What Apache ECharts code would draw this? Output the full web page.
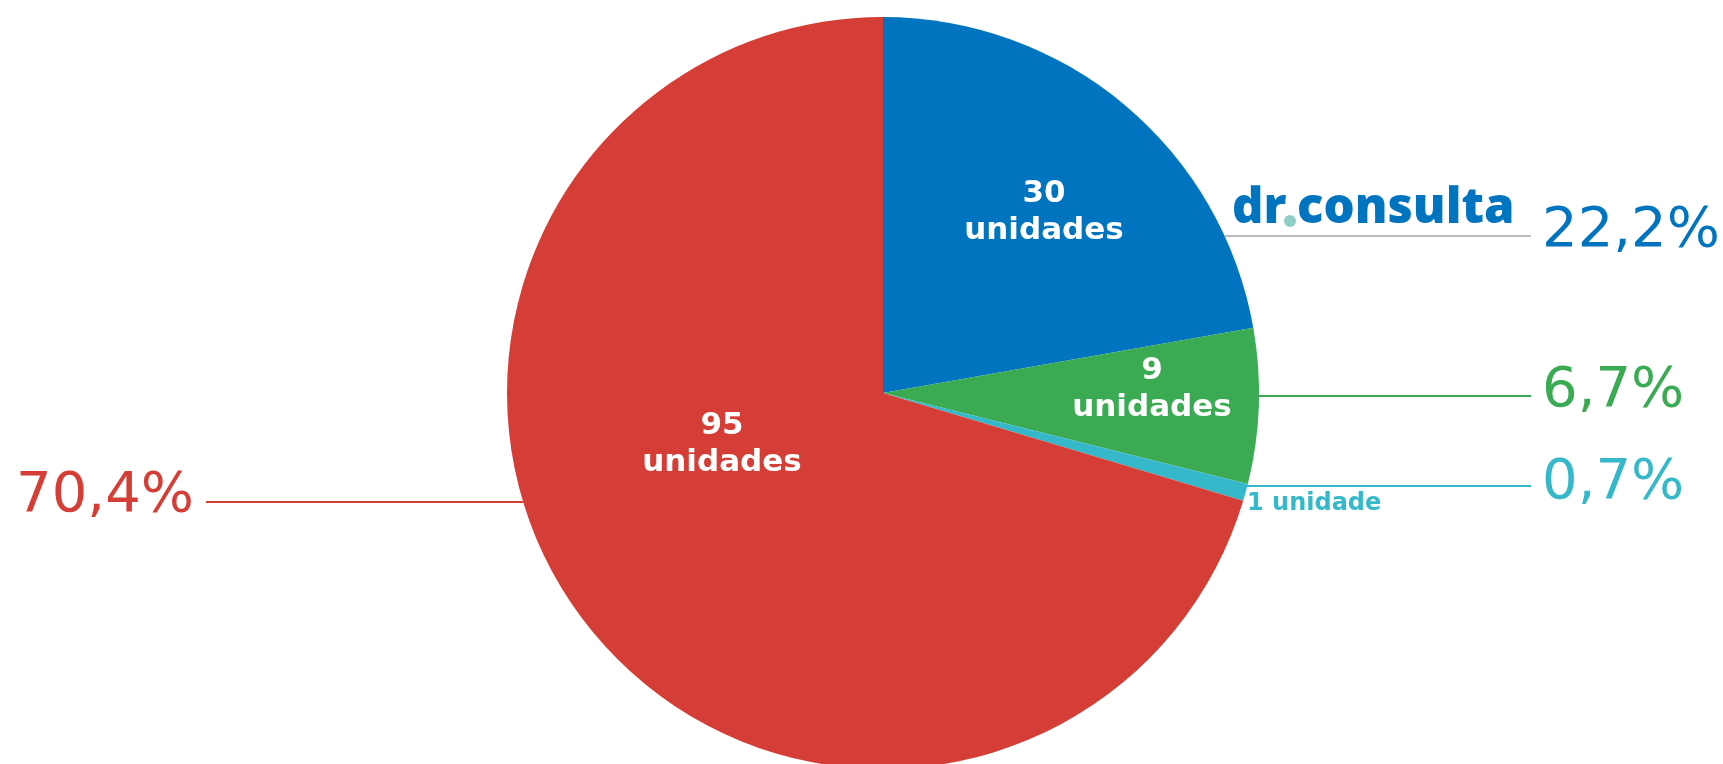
<!DOCTYPE html>
<html lang="pt">
<head>
    <meta charset="UTF-8">
    <title>unidades</title>
    <script src="https://cdn.jsdelivr.net/npm/echarts@6/dist/echarts.min.js"></script>
    <style>
        html, body { margin: 0; padding: 0; background: #fff; }
    </style>
</head>
<body>
<div id="main" style="width: 1723px;height:764px;"></div>
<script>
    // dados do gráfico
    var nomes = ['dr.consulta', 'Outra', 'Outra 2', 'Demais'];
    var unidades = [30, 9, 1, 95];
    var cores = ['#0074BF', '#3AAB53', '#35B9CA', '#D53E36'];
    var coresLinha = ['#BBBBBB', '#3AAB53', '#35B9CA', '#D53E36'];

    // posições dos rótulos internos (centro do bloco)
    var posInterno = [[1044, 212], [1152, 389], [1247, 504], [722, 444]];
    // posições dos rótulos de percentual e das linhas
    var posPct = [[1542, 231, 'left'], [1542, 391, 'left'], [1542, 483, 'left'], [194, 496, 'right']];
    var linhas = [
        [[1225, 236], [1225, 236], [1531, 236]],
        [[1259, 396], [1259, 396], [1531, 396]],
        [[1247, 486], [1247, 486], [1531, 486]],
        [[523, 502], [523, 502], [206, 502]]
    ];

    var dados = [];
    for (var i = 0; i < unidades.length; i++) {
        var item = {
            name: nomes[i],
            value: unidades[i],
            itemStyle: { color: cores[i] }
        };
        if (unidades[i] == 1) {
            item.label = {
                color: cores[i],
                fontSize: 24,
                formatter: '{c} unidade'
            };
        }
        dados.push(item);
    }

    var dadosPct = [];
    for (var j = 0; j < unidades.length; j++) {
        dadosPct.push({
            name: nomes[j],
            value: unidades[j],
            label: { color: cores[j] },
            labelLine: { lineStyle: { color: coresLinha[j] } }
        });
    }

    var chart = echarts.init(document.getElementById("main"));
    var option = {
        animation: false,
        series: [
            {
                type: 'pie',
                center: [883, 393],
                radius: [0, 376],
                startAngle: 90,
                clockwise: true,
                silent: true,
                data: dados,
                label: {
                    show: true,
                    position: 'inside',
                    color: '#fff',
                    fontFamily: 'DejaVu Sans',
                    fontWeight: 'bold',
                    fontSize: 31,
                    lineHeight: 37,
                    formatter: '{c}\nunidades'
                },
                labelLine: { show: false },
                labelLayout: function (p) {
                    var pos = posInterno[p.dataIndex];
                    var um = unidades[p.dataIndex] == 1;
                    return {
                        x: pos[0],
                        y: pos[1],
                        align: um ? 'left' : 'center',
                        verticalAlign: 'middle'
                    };
                }
            },
            {
                type: 'pie',
                center: [883, 393],
                radius: [0, 376],
                startAngle: 90,
                clockwise: true,
                silent: true,
                percentPrecision: 1,
                itemStyle: { color: 'rgba(0,0,0,0)' },
                data: dadosPct,
                label: {
                    show: true,
                    position: 'outside',
                    fontFamily: 'DejaVu Sans',
                    fontSize: 56,
                    formatter: function (p) {
                        return p.percent.toFixed(1).replace('.', ',') + '%';
                    }
                },
                labelLine: {
                    show: true,
                    length: 10,
                    length2: 10,
                    lineStyle: { width: 2 }
                },
                labelLayout: function (p) {
                    var pos = posPct[p.dataIndex];
                    return {
                        x: pos[0],
                        y: pos[1],
                        align: pos[2],
                        verticalAlign: 'middle',
                        labelLinePoints: linhas[p.dataIndex]
                    };
                }
            }
        ],
        graphic: [
            {
                type: 'text',
                left: 1232,
                top: 185,
                style: {
                    text: 'dr',
                    fill: '#0074BF',
                    font: '800 49px "Open Sans"'
                }
            },
            {
                type: 'circle',
                shape: { cx: 1290, cy: 221, r: 6 },
                style: { fill: '#8ECFC5' }
            },
            {
                type: 'text',
                left: 1297,
                top: 185,
                style: {
                    text: 'consulta',
                    fill: '#0074BF',
                    font: '800 49px "Open Sans"'
                }
            }
        ]
    };
    chart.setOption(option);
</script>
</body>
</html>
